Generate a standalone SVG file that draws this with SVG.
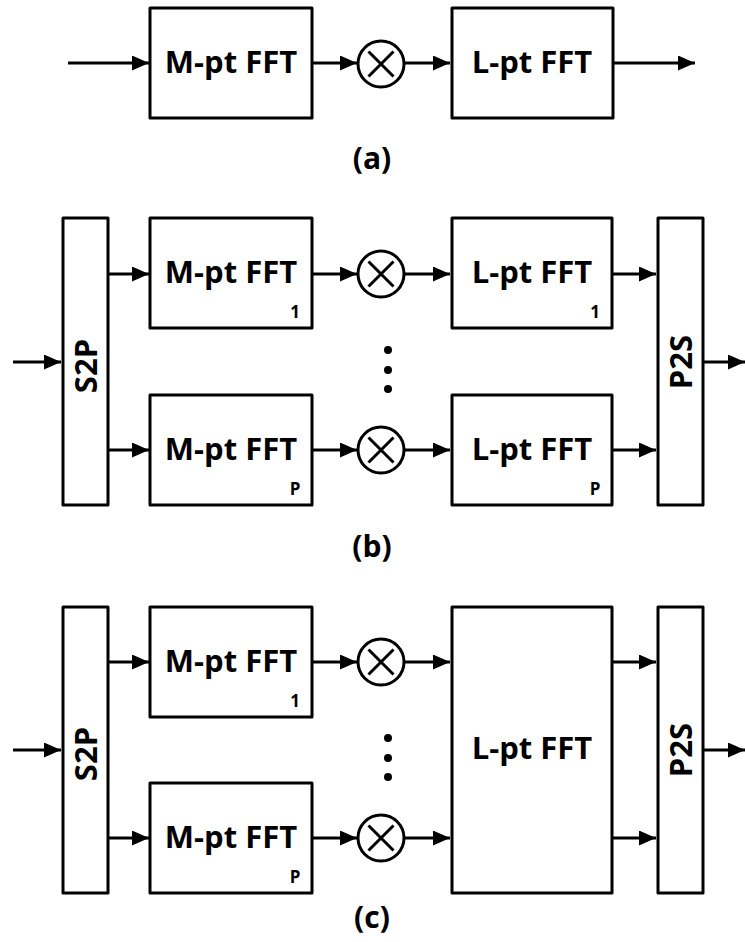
<svg xmlns="http://www.w3.org/2000/svg" width="745" height="942" viewBox="0 0 745 942">
<style>
.box{fill:#fff;stroke:#000;stroke-width:3;stroke-linejoin:round}
.c{fill:none;stroke:#000;stroke-width:3}
.w{stroke:#000;stroke-width:3;fill:none}
.t{font-family:"Open Sans","Liberation Sans",sans-serif;font-weight:bold;font-size:31px;text-anchor:middle;fill:#000}
.s{font-family:"Open Sans","Liberation Sans",sans-serif;font-weight:bold;font-size:17px;text-anchor:middle;fill:#000}
.cap{font-family:"Open Sans","Liberation Sans",sans-serif;font-weight:bold;font-size:30px;text-anchor:middle;fill:#000}
</style>
<defs>
<marker id="ah" markerUnits="userSpaceOnUse" markerWidth="17" markerHeight="15" refX="17" refY="7.5" orient="auto"><path d="M0,0 L17,7.5 L0,15 Z" fill="#000"/></marker>
<g id="mul"><circle r="23" class="c"/><path d="M-12.5,-12.5 L12.5,12.5 M12.5,-12.5 L-12.5,12.5" class="c"/></g>
</defs>
<rect width="745" height="942" fill="#fff"/>
<!-- (a) -->
<g id="a_m"><rect class="box" x="150" y="8" width="162" height="110"/><text class="t" x="231" y="73">M-pt FFT</text></g>
<g id="a_x"><use href="#mul" x="381" y="64"/></g>
<g id="a_l"><rect class="box" x="452" y="8" width="161" height="110"/><text class="t" x="532" y="73">L-pt FFT</text></g>
<text class="cap" x="372" y="169">(a)</text>
<!-- (b) -->
<g id="b_s2p"><rect class="box" x="63" y="218" width="45" height="287"/><text class="t" transform="translate(97,366) rotate(-90)">S2P</text></g>
<g id="b_m1"><rect class="box" x="150" y="218" width="162" height="110"/><text class="t" x="231" y="283">M-pt FFT</text><text class="s" x="295" y="318">1</text></g>
<g id="b_mp"><rect class="box" x="150" y="395" width="162" height="110"/><text class="t" x="231" y="460">M-pt FFT</text><text class="s" x="295" y="495">P</text></g>
<g id="b_x1"><use href="#mul" x="381" y="274"/></g>
<g id="b_xp"><use href="#mul" x="381" y="450"/></g>
<g id="b_dots"><circle cx="388" cy="350" r="4"/><circle cx="388" cy="370" r="4"/><circle cx="388" cy="389" r="4"/></g>
<g id="b_l1"><rect class="box" x="452" y="218" width="160" height="110"/><text class="t" x="532" y="283">L-pt FFT</text><text class="s" x="595" y="318">1</text></g>
<g id="b_lp"><rect class="box" x="452" y="395" width="160" height="110"/><text class="t" x="532" y="460">L-pt FFT</text><text class="s" x="595" y="495">P</text></g>
<g id="b_p2s"><rect class="box" x="658" y="218" width="45" height="287"/><text class="t" transform="translate(692,362) rotate(-90)">P2S</text></g>
<text class="cap" x="372" y="557">(b)</text>
<!-- (c) -->
<g id="c_s2p"><rect class="box" x="63" y="607" width="45" height="286"/><text class="t" transform="translate(97,754) rotate(-90)">S2P</text></g>
<g id="c_m1"><rect class="box" x="150" y="607" width="162" height="110"/><text class="t" x="231" y="672">M-pt FFT</text><text class="s" x="295" y="707">1</text></g>
<g id="c_mp"><rect class="box" x="150" y="783" width="162" height="110"/><text class="t" x="231" y="848">M-pt FFT</text><text class="s" x="295" y="883">P</text></g>
<g id="c_x1"><use href="#mul" x="381" y="662"/></g>
<g id="c_xp"><use href="#mul" x="381" y="838"/></g>
<g id="c_dots"><circle cx="388" cy="738" r="4"/><circle cx="388" cy="758" r="4"/><circle cx="388" cy="777" r="4"/></g>
<g id="c_l"><rect class="box" x="452" y="607" width="160" height="286"/><text class="t" x="532" y="759">L-pt FFT</text></g>
<g id="c_p2s"><rect class="box" x="658" y="607" width="45" height="286"/><text class="t" transform="translate(692,750) rotate(-90)">P2S</text></g>
<text class="cap" x="372" y="928">(c)</text>
<!-- connectors -->
<g id="connectors" class="w" marker-end="url(#ah)">
<line x1="68" y1="63" x2="149" y2="63"/>
<line x1="312" y1="63" x2="357" y2="63"/>
<line x1="405" y1="63" x2="450" y2="63"/>
<line x1="613" y1="63" x2="695" y2="63"/>
<line x1="13" y1="362" x2="61" y2="362"/>
<line x1="108" y1="274" x2="149" y2="274"/>
<line x1="108" y1="450" x2="149" y2="450"/>
<line x1="312" y1="274" x2="357" y2="274"/>
<line x1="312" y1="450" x2="357" y2="450"/>
<line x1="405" y1="274" x2="450" y2="274"/>
<line x1="405" y1="450" x2="450" y2="450"/>
<line x1="612" y1="274" x2="656" y2="274"/>
<line x1="612" y1="450" x2="656" y2="450"/>
<line x1="703" y1="362" x2="745" y2="362"/>
<line x1="13" y1="750" x2="61" y2="750"/>
<line x1="108" y1="662" x2="149" y2="662"/>
<line x1="108" y1="838" x2="149" y2="838"/>
<line x1="312" y1="662" x2="357" y2="662"/>
<line x1="312" y1="838" x2="357" y2="838"/>
<line x1="405" y1="662" x2="450" y2="662"/>
<line x1="405" y1="838" x2="450" y2="838"/>
<line x1="612" y1="662" x2="656" y2="662"/>
<line x1="612" y1="838" x2="656" y2="838"/>
<line x1="703" y1="750" x2="745" y2="750"/>
</g>
</svg>
